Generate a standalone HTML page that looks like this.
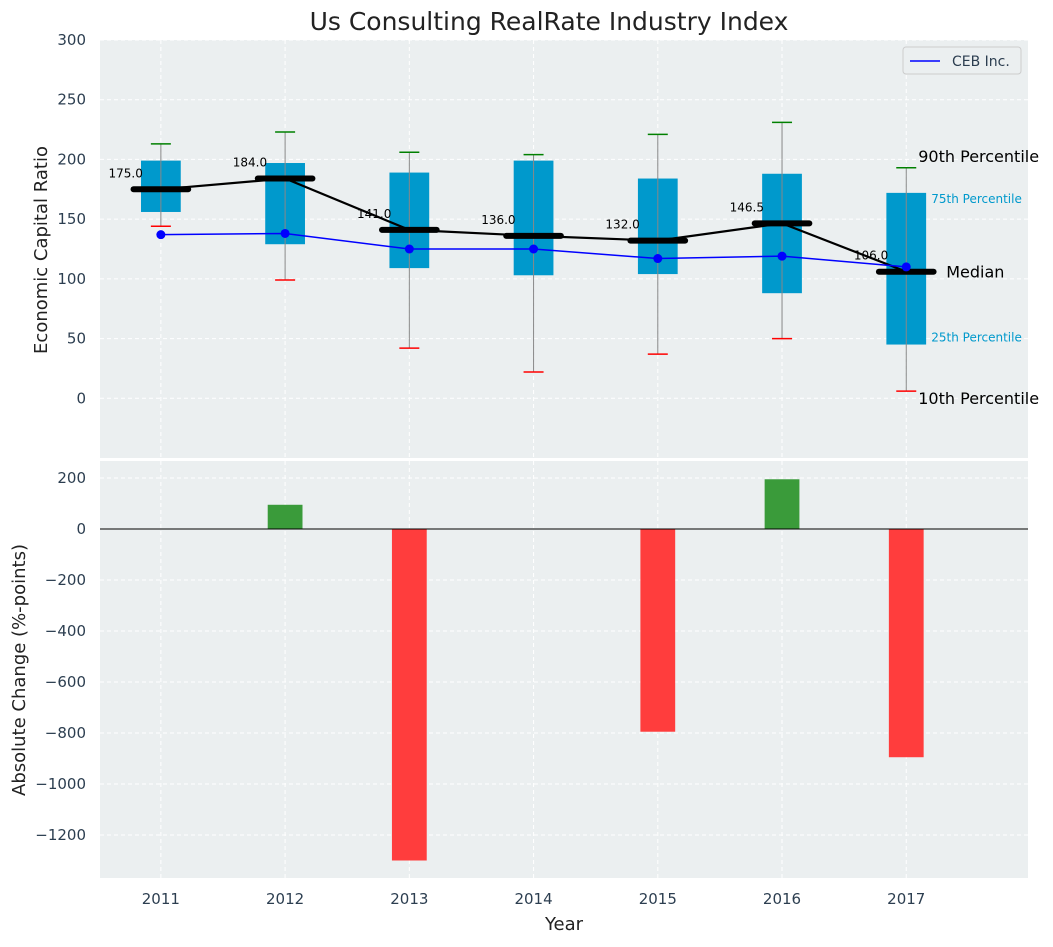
<!DOCTYPE html>
<html><head><meta charset="utf-8"><style>
body{margin:0;background:#fff;font-family:"Liberation Sans","DejaVu Sans",sans-serif;}
svg text{font-family:"DejaVu Sans","Liberation Sans",sans-serif;}
</style></head><body>
<svg id="c" width="1053" height="942" xmlns="http://www.w3.org/2000/svg"></svg>
<script>
const years=[2011,2012,2013,2014,2015,2016,2017];
const p10=[144,99,42,22,37,50,6];
const p25=[156,129,109,103,104,88,45];
const medians=[175,184,141,136,132,146.5,106];
const p75=[199,197,189,199,184,188,172];
const p90=[213,223,206,204,221,231,193];
const ceb=[137,138,125,125,117,119,110];
const changes=[0,95,-1300,0,-795,195,-895];
const topTicks=[0,50,100,150,200,250,300];
const botTicks=[200,0,-200,-400,-600,-800,-1000,-1200];

const NS="http://www.w3.org/2000/svg",svg=document.getElementById('c');
function el(t,a,txt,name,parent){const e=document.createElementNS(NS,t);for(const k in a)e.setAttribute(k,a[k]);if(txt!==undefined&&txt!==null)e.textContent=txt;


(parent||svg).appendChild(e);return e;}
const L=100,R=1028,T1=40,B1=458,T2=461,B2=878;
const x=v=>L+(v-2010.51)/(2017.98-2010.51)*(R-L);
const y1=v=>T1+(300-v)/350*(B1-T1);
const y2=v=>529-v*0.255;
const fmt=v=>v<0?'\u2212'+Math.abs(v):String(v);
el('rect',{x:L,y:T1,width:R-L,height:B1-T1,fill:'#ebeff0'},null,'top-plot-bg');
el('rect',{x:L,y:T2,width:R-L,height:B2-T2,fill:'#ebeff0'},null,'bottom-plot-bg');
const tc='#2c3e50';
topTicks.forEach(t=>{el('line',{x1:L,x2:R,y1:y1(t),y2:y1(t),stroke:'#fff','stroke-dasharray':'4,3'},null,'grid-line');
el('text',{x:L-14,y:y1(t)+5,'text-anchor':'end','font-size':15,fill:tc},fmt(t),'y-tick-label');});
botTicks.forEach(t=>{el('line',{x1:L,x2:R,y1:y2(t),y2:y2(t),stroke:'#fff','stroke-dasharray':'4,3'},null,'grid-line');
el('text',{x:L-14,y:y2(t)+5,'text-anchor':'end','font-size':15,fill:tc},fmt(t),'y-tick-label');});
years.forEach(yr=>{el('line',{x1:x(yr),x2:x(yr),y1:T1,y2:B1,stroke:'#fff','stroke-dasharray':'4,3'},null,'grid-line');
el('line',{x1:x(yr),x2:x(yr),y1:T2,y2:B2,stroke:'#fff','stroke-dasharray':'4,3'},null,'grid-line');
el('text',{x:x(yr),y:904,'text-anchor':'middle','font-size':15,fill:tc},yr,'x-tick-label');});
const bw=0.32*(x(1)-x(0)), mw=0.44*(x(1)-x(0)), cw=20;
years.forEach((yr,i)=>{const cx=x(yr);
el('rect',{x:cx-bw/2,y:y1(p75[i]),width:bw,height:y1(p25[i])-y1(p75[i]),fill:'#0099cc'},null,'box-'+yr);
el('line',{x1:cx,x2:cx,y1:y1(p90[i]),y2:y1(p10[i]),stroke:'#888','stroke-width':1},null,'whisker-'+yr);
el('line',{x1:cx-cw/2,x2:cx+cw/2,y1:y1(p90[i]),y2:y1(p90[i]),stroke:'green','stroke-width':1.5},null,'cap-90-'+yr);
el('line',{x1:cx-cw/2,x2:cx+cw/2,y1:y1(p10[i]),y2:y1(p10[i]),stroke:'red','stroke-width':1.5},null,'cap-10-'+yr);
});
el('polyline',{points:years.map((yr,i)=>x(yr)+','+y1(medians[i])).join(' '),fill:'none',stroke:'#000','stroke-width':2.2},null,'median-line');
years.forEach((yr,i)=>{const cx=x(yr);
el('line',{x1:cx-mw/2,x2:cx+mw/2,y1:y1(medians[i]),y2:y1(medians[i]),stroke:'#000','stroke-width':6,'stroke-linecap':'round'},null,'median-marker-'+yr);
el('text',{x:cx-18,y:y1(medians[i])-12,'text-anchor':'end','font-size':12,fill:'#000'},medians[i].toFixed(1),'median-label');});
el('polyline',{points:years.map((yr,i)=>x(yr)+','+y1(ceb[i])).join(' '),fill:'none',stroke:'#0000ff','stroke-width':1.5},null,'ceb-line');
years.forEach((yr,i)=>el('circle',{cx:x(yr),cy:y1(ceb[i]),r:4.5,fill:'#0000ff'},null,'ceb-point'));
const lx=x(2017);
el('text',{x:lx+12,y:y1(p90[6])-6,'font-size':16,fill:'#000'},'90th Percentile','annotation-90');
el('text',{x:lx+25,y:y1(p75[6])+10,'font-size':12,fill:'#0099cc'},'75th Percentile','annotation-75');
el('text',{x:lx+40,y:y1(medians[6])+6,'font-size':16,fill:'#000'},'Median','annotation-median');
el('text',{x:lx+25,y:y1(p25[6])-3,'font-size':12,fill:'#0099cc'},'25th Percentile','annotation-25');
el('text',{x:lx+12,y:y1(p10[6])+13,'font-size':16,fill:'#000'},'10th Percentile','annotation-10');
el('rect',{x:903,y:47,width:118,height:27,fill:'#ebeff0',stroke:'#ccc',rx:3},null,'legend-box');
el('line',{x1:910,x2:940,y1:61,y2:61,stroke:'#0000ff','stroke-width':1.5},null,'legend-line');
el('text',{x:952,y:66,'font-size':14,fill:tc},'CEB Inc.','legend-label');
const barW=0.28*(x(1)-x(0));
years.forEach((yr,i)=>{const v=changes[i];if(v===0)return;
el('rect',{x:x(yr)-barW/2,y:Math.min(y2(v),y2(0)),width:barW,height:Math.abs(y2(v)-y2(0)),fill:v>0?'#3a9b3a':'#ff3d3d'},null,'bar-'+yr);});
el('line',{x1:L,x2:R,y1:y2(0),y2:y2(0),stroke:'#000','stroke-width':1},null,'zero-line');
el('text',{x:549,y:30,'text-anchor':'middle','font-size':25,fill:'#222'},'Us Consulting RealRate Industry Index','chart-title');
el('text',{x:564,y:930,'text-anchor':'middle','font-size':18,fill:'#222'},'Year','x-axis-title');
el('text',{x:47,y:250,'text-anchor':'middle','font-size':18,fill:'#222',transform:'rotate(-90 47 250)'},'Economic Capital Ratio','y-axis-title-top');
el('text',{x:25,y:670,'text-anchor':'middle','font-size':18,fill:'#222',transform:'rotate(-90 25 670)'},'Absolute Change (%-points)','y-axis-title-bottom');
</script>
</body></html>
